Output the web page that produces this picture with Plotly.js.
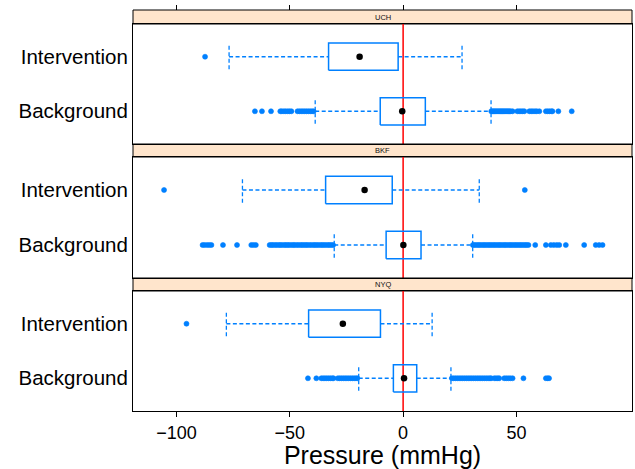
<!DOCTYPE html>
<html>
<head>
<meta charset="utf-8">
<script src="https://cdn.plot.ly/plotly-3.0.1.min.js"></script>
<style>html,body{margin:0;padding:0;background:#fff}#chart{width:635px;height:469px}</style>
</head>
<body>
<div id="chart"></div>
<script>
// ---- data ----
const panels = ['UCH', 'BKF', 'NYQ'];
const groups = ['Background', 'Intervention'];
const xTicks = [-100, -50, 0, 50];
const refLine = 0;

// [Background, Intervention]
const uchQ1 = [-10.1, -32.9], uchMed = [-0.4, -19.2], uchQ3 = [9.8, -2.2], uchLo = [-38.8, -76.8], uchHi = [38.8, 26.0];
const bkfQ1 = [-7.5, -34.2], bkfMed = [0.1, -17.0], bkfQ3 = [7.9, -4.8], bkfLo = [-30.4, -70.9], bkfHi = [30.7, 33.6];
const nyqQ1 = [-4.3, -41.7], nyqMed = [0.4, -26.6], nyqQ3 = [6.0, -10.0], nyqLo = [-19.6, -78.0], nyqHi = [21.1, 12.8];

const uchOutBg = [-65.4, -62.3, -58.3, -54.2, -53.5, -52.6, -51.8, -50.9, -50.1, -49.3, -46.6, -45.8, -45.0, -44.2, -43.4, -42.6, -41.8, -41.0, -40.2, -39.5,
  38.9, 39.4, 39.9, 40.4, 40.9, 41.4, 41.9, 42.4, 42.9, 43.4, 43.9, 44.4, 44.9, 45.4, 45.9, 46.4, 46.9, 47.5, 48.3,
  50.4, 51.2, 52.0, 52.8, 53.5, 55.7, 56.5, 57.3, 58.2, 59.0, 60.1, 63.0, 63.8, 64.6, 65.4, 65.9, 68.5, 74.4];
const uchOutInt = [-87.4];
const bkfOutBg = [-88.5, -87.6, -86.5, -85.5, -84.6, -79.5, -73.3, -67.0, -66.0, -65.0,
  -58.9, -58.1, -57.4, -56.5, -55.7, -54.8, -54.1, -53.3, -52.4, -51.7, -50.9, -50.2, -49.3, -48.5, -47.8, -46.9, -46.1, -45.2, -44.5, -43.7,
  -42.9, -42.2, -41.3, -40.5, -39.6, -38.9, -38.1, -37.3, -36.4, -35.7, -34.9, -34.1, -33.2, -32.5, -31.7, -30.9,
  30.8, 31.5, 32.3, 33.1, 33.8, 34.6, 35.4, 36.1, 36.9, 37.7, 38.4, 39.2, 40.0, 40.7, 41.5, 42.3, 43.0, 43.8, 44.6, 45.3,
  46.1, 46.9, 47.6, 48.4, 49.2, 49.9, 50.7, 51.5, 52.2, 53.0, 53.8, 54.5, 55.3,
  58.3, 63.0, 65.2, 66.5, 67.8, 68.9, 71.8, 79.9, 85.0, 86.5, 88.0];
const bkfOutInt = [-105.5, 53.7];
const nyqOutBg = [-42.0, -38.3, -36.1, -35.3, -34.5, -33.7, -32.9, -32.1, -31.3, -30.7,
  -28.8, -28.0, -27.2, -26.4, -25.6, -24.8, -24.0, -23.2, -22.4, -21.6, -20.8, -20.2,
  21.5, 22.3, 23.1, 23.9, 24.7, 25.5, 26.3, 27.1, 27.9, 28.7, 29.5, 30.3, 31.1, 31.9, 32.7, 33.5, 34.3, 35.1, 35.9, 36.7, 37.5, 38.3, 38.8,
  40.2, 41.0, 41.8, 42.4, 44.6, 45.5, 46.4, 47.3, 48.3, 53.1, 63.0, 63.8, 64.4];
const nyqOutInt = [-95.6];

// ---- build ----
const stats = {
  UCH: {q1: uchQ1, med: uchMed, q3: uchQ3, lo: uchLo, hi: uchHi, out: [uchOutBg, uchOutInt]},
  BKF: {q1: bkfQ1, med: bkfMed, q3: bkfQ3, lo: bkfLo, hi: bkfHi, out: [bkfOutBg, bkfOutInt]},
  NYQ: {q1: nyqQ1, med: nyqMed, q3: nyqQ3, lo: nyqLo, hi: nyqHi, out: [nyqOutBg, nyqOutInt]}
};

const BLUE = '#0080ff';
const halfBox = 0.25, halfCap = 0.23;
const xRange = [-119.2, 101.0];
const yRange = [0.4, 2.6];
const H = 401, TOPPX = 10;
// pixel rows (from top of the plot area) of each panel: strip top, panel top, panel bottom
const rows = [[0, 14, 134], [134, 147, 268], [268, 281, 401]];
const frac = px => 1 - px / H;

const traces = [];
const layout = {
  width: 635, height: 469,
  margin: {l: 133, r: 3, t: TOPPX, b: 58},
  paper_bgcolor: '#fff', plot_bgcolor: '#fff',
  showlegend: false,
  font: {family: 'Liberation Sans, Arial, sans-serif', color: '#000'},
  shapes: [], annotations: []
};

panels.forEach((p, i) => {
  const s = stats[p];
  const xa = i === 0 ? 'x' : 'x' + (i + 1);
  const ya = i === 0 ? 'y' : 'y' + (i + 1);
  groups.forEach((g, j) => {
    const c = j + 1;
    // box
    traces.push({type: 'scatter', mode: 'lines', xaxis: xa, yaxis: ya, hoverinfo: 'skip',
      x: [s.q1[j], s.q3[j], s.q3[j], s.q1[j], s.q1[j]],
      y: [c - halfBox, c - halfBox, c + halfBox, c + halfBox, c - halfBox],
      line: {color: BLUE, width: 1.5}});
    // whiskers
    traces.push({type: 'scatter', mode: 'lines', xaxis: xa, yaxis: ya, hoverinfo: 'skip',
      x: [s.lo[j], s.q1[j], null, s.q3[j], s.hi[j]], y: [c, c, null, c, c],
      line: {color: BLUE, width: 1.3, dash: '4px,2.5px'}});
    // caps
    traces.push({type: 'scatter', mode: 'lines', xaxis: xa, yaxis: ya, hoverinfo: 'skip',
      x: [s.lo[j], s.lo[j], null, s.hi[j], s.hi[j]],
      y: [c - halfCap, c + halfCap, null, c - halfCap, c + halfCap],
      line: {color: BLUE, width: 1.3, dash: '4px,2.5px'}});
    // outliers
    traces.push({type: 'scatter', mode: 'markers', xaxis: xa, yaxis: ya,
      x: s.out[j], y: s.out[j].map(() => c),
      marker: {symbol: 'circle', size: 5, color: BLUE, line: {width: 0.6, color: BLUE}}});
    // median dot
    traces.push({type: 'scatter', mode: 'markers', xaxis: xa, yaxis: ya,
      x: [s.med[j]], y: [c], marker: {symbol: 'circle', size: 6.5, color: '#000'}});
  });

  const r = rows[i];
  const isBottom = i === panels.length - 1;
  layout[i === 0 ? 'xaxis' : 'xaxis' + (i + 1)] = {
    range: xRange, anchor: ya, tickvals: xTicks,
    showline: true, mirror: true, linecolor: '#000', linewidth: 1,
    showgrid: false, zeroline: false,
    ticks: isBottom ? 'outside' : '', ticklen: 5, tickcolor: '#000',
    showticklabels: isBottom,
    tickfont: {size: 18, color: '#000'},
    title: isBottom ? {text: 'Pressure (mmHg)', font: {size: 25, color: '#000'}, standoff: 1} : undefined
  };
  layout[i === 0 ? 'yaxis' : 'yaxis' + (i + 1)] = {
    domain: [frac(r[2]), frac(r[1])], anchor: xa, range: yRange,
    tickvals: [1, 2], ticktext: groups, ticks: '', ticklabelstandoff: 0,
    showline: true, mirror: true, linecolor: '#000', linewidth: 1,
    showgrid: false, zeroline: false,
    tickfont: {size: 20.5, color: '#000'}
  };
  // strip
  layout.shapes.push({type: 'rect', xref: 'paper', yref: 'paper', x0: 0, x1: 1,
    y0: frac(r[1]), y1: frac(r[0]), fillcolor: '#ffe5cc', line: {color: '#000', width: 1}, layer: 'below'});
  layout.annotations.push({xref: 'paper', yref: 'paper', x: 0.5, y: (frac(r[1]) + frac(r[0])) / 2,
    text: p, showarrow: false, font: {size: 7.5, color: '#111'}, xanchor: 'center', yanchor: 'middle'});
  // reference line
  layout.shapes.push({type: 'line', xref: xa, yref: ya + ' domain', x0: refLine, x1: refLine, y0: 0, y1: 1,
    line: {color: '#ff0000', width: 1.5}, layer: 'below'});
});

// top tick marks above the first strip
layout.xaxis4 = {range: xRange, overlaying: 'x', anchor: 'free', position: 1, side: 'top',
  tickvals: xTicks, ticks: 'outside', ticklen: 5, tickcolor: '#000', showticklabels: false,
  showline: false, showgrid: false, zeroline: false};
traces.push({type: 'scatter', mode: 'markers', xaxis: 'x4', yaxis: 'y', x: [0], y: [null], hoverinfo: 'skip'});

Plotly.newPlot('chart', traces, layout, {displayModeBar: false, staticPlot: true});
</script>
</body>
</html>
